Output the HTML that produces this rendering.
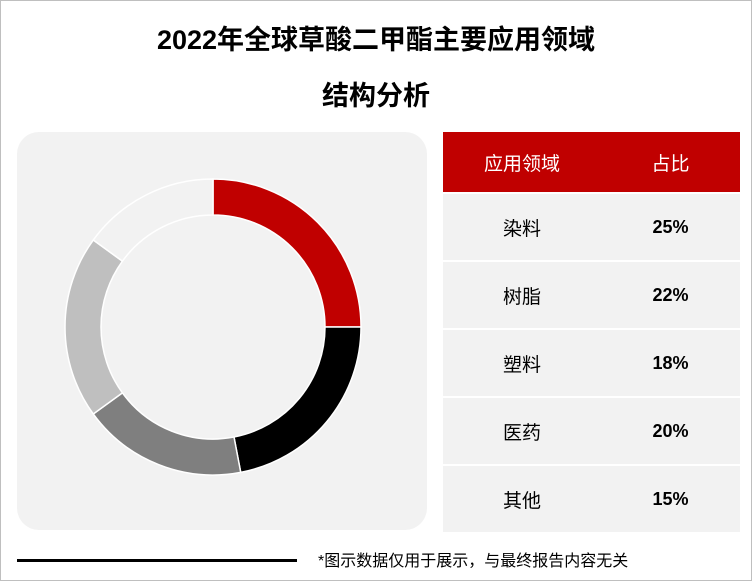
<!DOCTYPE html>
<html><head><meta charset="utf-8">
<style>
body{margin:0;width:752px;height:581px;background:#fff;font-family:"Liberation Sans","Noto Sans CJK SC",sans-serif;overflow:hidden;position:relative}
.frame{position:absolute;left:0;top:0;width:750px;height:579px;border:1px solid #bfbfbf}
.title{position:absolute;left:0;width:752px;text-align:center;font-size:27px;font-weight:bold;color:#000;line-height:56px;top:12px}
.panel{position:absolute;left:17px;top:132px;width:410px;height:398px;background:#f2f2f2;border-radius:22px}
table{position:absolute;left:443px;top:130px;border-collapse:separate;border-spacing:0 2px;width:297px;table-layout:fixed}
td{background:#f2f2f2;height:66px;text-align:center;font-size:19px;color:#000;padding:0}
th{background:#c00000;color:#fff;height:60px;font-size:19px;font-weight:normal;padding:0}
td.v{font-weight:bold;font-size:18px}
.line{position:absolute;left:17px;top:559px;width:280px;height:3px;background:#000}
.note{position:absolute;left:318px;top:547px;font-size:16px;color:#000}
</style></head><body>
<div class="frame"></div>
<div class="title">2022年全球草酸二甲酯主要应用领域<br>结构分析</div>
<div class="panel"></div>
<svg id="donut" width="752" height="581" style="position:absolute;left:0;top:0"></svg>
<table>
<colgroup><col style="width:158px"><col style="width:139px"></colgroup>
<tr><th>应用领域</th><th>占比</th></tr>
<tbody id="tb"></tbody>
</table>
<div class="line"></div>
<div class="note">*图示数据仅用于展示，与最终报告内容无关</div>
<script>
const categories=["染料","树脂","塑料","医药","其他"];
const values=[25,22,18,20,15];
const colors=["#c00000","#000000","#7f7f7f","#bfbfbf","#f2f2f2"];
const cx=213,cy=327,R=148,r=112;
const svg=document.getElementById('donut');
const total=values.reduce((a,b)=>a+b,0);
let a0=0;
function pt(rad,a){return [cx+rad*Math.sin(a),cy-rad*Math.cos(a)];}
values.forEach((v,i)=>{
  const a1=a0+v/total*2*Math.PI;
  const large=(a1-a0)>Math.PI?1:0;
  const p1=pt(R,a0),p2=pt(R,a1),p3=pt(r,a1),p4=pt(r,a0);
  const p=document.createElementNS('http://www.w3.org/2000/svg','path');
  p.setAttribute('d',`M${p1[0]},${p1[1]}A${R},${R} 0 ${large} 1 ${p2[0]},${p2[1]}L${p3[0]},${p3[1]}A${r},${r} 0 ${large} 0 ${p4[0]},${p4[1]}Z`);
  p.setAttribute('fill',colors[i]);p.setAttribute('stroke','#fff');p.setAttribute('stroke-width','1.5');
  
  
  svg.appendChild(p);
  a0=a1;
});
const tb=document.getElementById('tb');
categories.forEach((c,i)=>{
  const tr=document.createElement('tr');
  
  
  const t1=document.createElement('td');t1.textContent=c;
  
  
  const t2=document.createElement('td');t2.className='v';t2.textContent=values[i]+'%';
  
  
  tr.appendChild(t1);tr.appendChild(t2);tb.appendChild(tr);
});
</script>
</body></html>
